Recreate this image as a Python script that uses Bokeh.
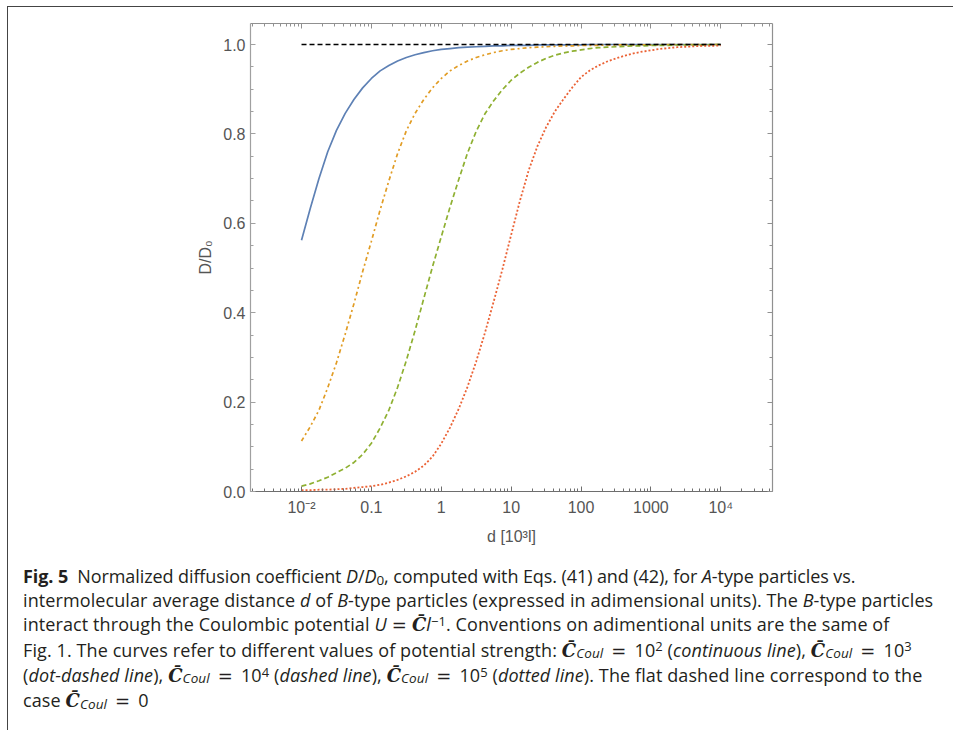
from bokeh.plotting import figure
from bokeh.models import LogAxis, LinearAxis, FixedTicker, Div, Range1d, PrintfTickFormatter
from bokeh.layouts import column
from bokeh.embed import file_html
from bokeh.resources import INLINE

# distance d [10^3 l] (eighth-decade samples from 1e-2 to 1e4)
d = [0.01, 0.013335, 0.017783, 0.023714, 0.031623, 0.04217, 0.056234, 0.074989,
     0.1, 0.13335, 0.17783, 0.23714, 0.31623, 0.4217, 0.56234, 0.74989,
     1.0, 1.3335, 1.7783, 2.3714, 3.1623, 4.217, 5.6234, 7.4989,
     10.0, 13.335, 17.783, 23.714, 31.623, 42.17, 56.234, 74.989,
     100.0, 133.35, 177.83, 237.14, 316.23, 421.7, 562.34, 749.89,
     1000.0, 1333.5, 1778.3, 2371.4, 3162.3, 4217.0, 5623.4, 7498.9,
     10000.0]

# D/D0 for C_Coul = 1e2 (continuous line)
c1e2 = [0.562, 0.633, 0.700, 0.760, 0.808, 0.846, 0.877, 0.903,
        0.924, 0.941, 0.953, 0.963, 0.971, 0.977, 0.982, 0.986,
        0.989, 0.991, 0.993, 0.994, 0.995, 0.996, 0.997, 0.997,
        0.998, 0.998, 0.998, 0.999, 0.999, 0.999, 0.999, 0.999,
        0.999, 1.0, 1.0, 1.0, 1.0, 1.0, 1.0, 1.0,
        1.0, 1.0, 1.0, 1.0, 1.0, 1.0, 1.0, 1.0,
        1.0]
# C_Coul = 1e3 (dot-dashed line)
c1e3 = [0.113, 0.145, 0.182, 0.232, 0.288, 0.352, 0.420, 0.492,
        0.560, 0.630, 0.695, 0.756, 0.807, 0.846, 0.877, 0.903,
        0.924, 0.941, 0.953, 0.963, 0.971, 0.977, 0.982, 0.986,
        0.989, 0.991, 0.993, 0.994, 0.995, 0.996, 0.997, 0.997,
        0.998, 0.998, 0.998, 0.999, 0.999, 0.999, 0.999, 0.999,
        0.999, 1.0, 1.0, 1.0, 1.0, 1.0, 1.0, 1.0,
        1.0]
# C_Coul = 1e4 (dashed line)
c1e4 = [0.012, 0.017, 0.024, 0.032, 0.042, 0.052, 0.065, 0.083,
        0.108, 0.142, 0.182, 0.233, 0.293, 0.360, 0.432, 0.503,
        0.570, 0.636, 0.698, 0.757, 0.806, 0.845, 0.874, 0.899,
        0.920, 0.936, 0.949, 0.960, 0.969, 0.976, 0.981, 0.985,
        0.988, 0.991, 0.993, 0.994, 0.995, 0.996, 0.997, 0.997,
        0.998, 0.998, 0.998, 0.999, 0.999, 0.999, 0.999, 1.0,
        1.0]
# C_Coul = 1e5 (dotted line)
c1e5 = [0.003, 0.003, 0.004, 0.004, 0.005, 0.006, 0.008, 0.010,
        0.012, 0.015, 0.020, 0.026, 0.034, 0.044, 0.058, 0.078,
        0.107, 0.143, 0.185, 0.234, 0.291, 0.355, 0.425, 0.497,
        0.574, 0.650, 0.718, 0.772, 0.815, 0.850, 0.878, 0.904,
        0.927, 0.942, 0.953, 0.962, 0.969, 0.975, 0.980, 0.984,
        0.987, 0.990, 0.992, 0.994, 0.995, 0.996, 0.997, 0.997,
        0.998]
# C_Coul = 0 (flat dashed line)
flat_d = [0.01, 10000.0]
flat_v = [1.0, 1.0]

x_major = [0.01, 0.1, 1.0, 10.0, 100.0, 1000.0, 10000.0]
x_labels = ["10\u207b\u00b2", "0.1", "1", "10", "100", "1000", "10\u2074"]
y_major = [0.0, 0.2, 0.4, 0.6, 0.8, 1.0]
x_minor = [m * 10.0 ** k for k in range(-3, 5) for m in range(2, 10)]
y_minor = [i * 0.05 for i in range(0, 21)]

p = figure(width=940, height=543, x_axis_type="log",
           x_range=Range1d(10 ** -2.73, 10 ** 4.74), y_range=Range1d(0.0, 1.047),
           frame_width=522, frame_height=468,
           min_border_left=242, min_border_right=176, min_border_top=16, min_border_bottom=59,
           output_backend="svg", toolbar_location=None, outline_line_color=None,
           background_fill_color="white", border_fill_color="white")
p.grid.visible = False

tick_font = "Liberation Sans"
lab_col = "#555555"

def style_axis(ax, line_col, show_labels):
    ax.axis_line_color = line_col
    ax.axis_line_width = 1.2
    ax.major_tick_line_color = line_col
    ax.minor_tick_line_color = line_col
    ax.major_tick_in = 5
    ax.major_tick_out = 0
    ax.minor_tick_in = 3
    ax.minor_tick_out = 0
    ax.major_label_text_font = tick_font
    ax.major_label_text_color = lab_col
    ax.major_label_text_font_size = "16px" if show_labels else "0px"
    if not show_labels:
        ax.major_label_text_alpha = 0

xb = p.xaxis[0]
xb.ticker = FixedTicker(ticks=x_major, minor_ticks=x_minor)
xb.major_label_overrides = {v: s for v, s in zip(x_major, x_labels)}
style_axis(xb, "#6e6e6e", True)
xb.major_label_standoff = 7
xb.axis_label = "d [10\u00b3l]"
xb.axis_label_text_font = tick_font
xb.axis_label_text_font_style = "normal"
xb.axis_label_text_font_size = "16px"
xb.axis_label_text_color = lab_col
xb.axis_label_standoff = 9

yl = p.yaxis[0]
yl.ticker = FixedTicker(ticks=y_major, minor_ticks=y_minor)
yl.formatter = PrintfTickFormatter(format="%.1f")
style_axis(yl, "#a0a0a0", True)
yl.major_label_standoff = 5
yl.axis_label = "D/D\u2080"
yl.axis_label_text_font = tick_font
yl.axis_label_text_font_style = "normal"
yl.axis_label_text_font_size = "16px"
yl.axis_label_text_color = lab_col
yl.axis_label_standoff = 6

top = LogAxis(ticker=FixedTicker(ticks=x_major, minor_ticks=x_minor))
style_axis(top, "#909090", False)
p.add_layout(top, "above")
right = LinearAxis(ticker=FixedTicker(ticks=y_major, minor_ticks=y_minor))
style_axis(right, "#909090", False)
p.add_layout(right, "right")

p.line(d, c1e2, line_color="#5E81B5", line_width=1.7)
p.line(d, c1e3, line_color="#E19C24", line_width=1.7, line_dash="4 3 2 3")
p.line(d, c1e4, line_color="#8FB032", line_width=1.7, line_dash="5 3")
p.line(d, c1e5, line_color="#EB6235", line_width=1.8, line_dash="2 2")
p.line(flat_d, flat_v, line_color="black", line_width=1.5, line_dash="5 3")

SUP = "<span style=\"position:relative;top:-0.4em;font-size:72%;line-height:0;\">"
SUB = "<span style=\"position:relative;top:0.12em;font-size:75%;line-height:0;\">"
C = "<b><i style=\"font-family:'DejaVu Serif';line-height:0;\">C\u0304</i></b>"
Cc = C + SUB + "<i>Coul</i></span>"
eq = "<span style=\"font-family:'DejaVu Sans';margin:0 8px;\">=</span>"
eq2 = "<span style=\"font-family:'DejaVu Sans';margin:0 5px;\">=</span>"
caption = (
    "<div style=\"padding-left:10px;padding-top:9px;font-family:'Open Sans';font-size:18px;"
    "line-height:24.2px;letter-spacing:0.1px;color:#231f20;white-space:nowrap;\">"
    "<span style=\"letter-spacing:-0.09px;\"><b>Fig. 5</b>&nbsp; Normalized diffusion coefficient <i>D</i>/<i>D</i>" + SUB + "0</span>, computed with Eqs. (41) and (42), for <i>A</i>-type particles vs.</span><br>"
    "intermolecular average distance <i>d</i> of <i>B</i>-type particles (expressed in adimensional units). The <i>B</i>-type particles<br>"
    "interact through the Coulombic potential <i>U</i>" + eq2 + C + "<i>l</i>" + SUP + "\u22121</span>. Conventions on adimentional units are the same of<br>"
    "Fig. 1. The curves refer to different values of potential strength: " + Cc + eq + "10" + SUP + "2</span> (<i>continuous line</i>), " + Cc + eq + "10" + SUP + "3</span><br>"
    "(<i>dot-dashed line</i>), " + Cc + eq + "10" + SUP + "4</span> (<i>dashed line</i>), " + Cc + eq + "10" + SUP + "5</span> (<i>dotted line</i>). The flat dashed line correspond to the<br>"
    "case " + Cc + eq + "0"
    "</div>"
)
div = Div(text=caption, width=940, height=178)

layout = column(p, div, spacing=0, margin=(6, 0, 0, 7),
                styles={"border-left": "1px solid #444444", "border-top": "1px solid #444444"})

open("out.html", "w").write(file_html(layout, INLINE))
